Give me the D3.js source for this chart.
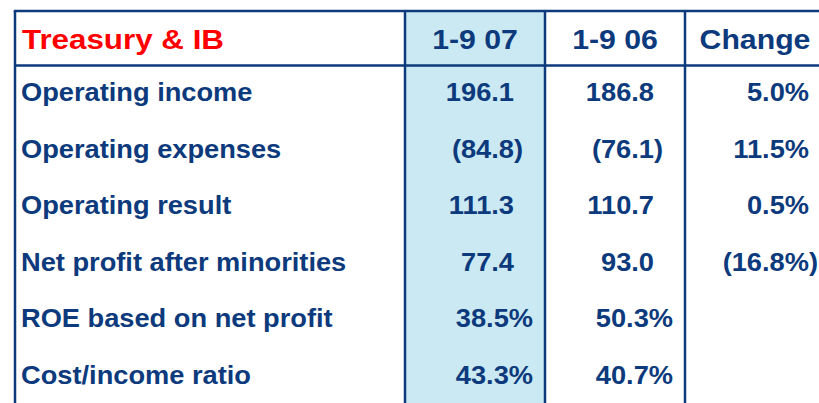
<!DOCTYPE html>
<html>
<head>
<meta charset="utf-8">
<script src="https://cdn.jsdelivr.net/npm/d3@7"></script>
<style>
  html, body { margin: 0; padding: 0; background: #fff; }
  svg text { font-family: "Liberation Sans", Arial, sans-serif; font-weight: bold; }
</style>
</head>
<body>
<svg id="tbl" width="819" height="403"></svg>
<script>
// table content
const title = "Treasury & IB";
const periods = ["1-9 07", "1-9 06", "Change"];
const metrics = [
    "Operating income",
    "Operating expenses",
    "Operating result",
    "Net profit after minorities",
    "ROE based on net profit",
    "Cost/income ratio"
];
const rowKind = ["amount", "amount", "amount", "amount", "ratio", "ratio"];
const val0907 = [196.1, -84.8, 111.3, 77.4, 38.5, 43.3];
const val0906 = [186.8, -76.1, 110.7, 93.0, 50.3, 40.7];
const changePct = [5.0, 11.5, 0.5, -16.8, null, null];

const NAVY = "#0c3a7c";
const RED = "#ff0000";
const HILITE = "#cbe9f2";
const SX = 1.09;   // the original text is a bit stretched sideways

const W = 819, H = 403;
const tblLeft = 15, tblTop = 11, headBottom = 65.5;
const labelRight = 405;

const svg = d3.select("#tbl");

const x = d3.scaleBand().domain(periods).range([labelRight, labelRight + 3 * 140]);
const y = d3.scaleBand().domain(metrics).range([headBottom, headBottom + 6 * 56.6]);

// padding from the right edge of the cell to the end of a ")"
const padRight = {"1-9 07": 22, "1-9 06": 22, "Change": 7};
const parenW = 9;

function fmt(v, kind, col){
    if (v == null) return "";
    var s = Math.abs(v).toFixed(1);
    if (kind == "ratio" || col == "Change") s += "%";
    return v < 0 ? "(" + s + ")" : s;
}

function endX(v, kind, col){
    var right = x(col) + x.bandwidth();
    if (kind == "ratio" && col != "Change") return right - 12;
    var e = right - padRight[col];
    return v < 0 ? e : e - parenW;
}

// highlighted column
svg.append("rect")
    .attr("x", x(periods[0])).attr("y", tblTop)
    .attr("width", x.bandwidth()).attr("height", H - tblTop)
    .attr("fill", HILITE);

// grid
const lines = svg.append("g").attr("stroke", NAVY).attr("stroke-width", 2.5);
lines.append("line").attr("x1", tblLeft - 1.25).attr("x2", W).attr("y1", tblTop).attr("y2", tblTop);
lines.append("line").attr("x1", tblLeft).attr("x2", W).attr("y1", headBottom).attr("y2", headBottom);
[tblLeft, labelRight, x(periods[1]), x(periods[2])].forEach(function(px){
    lines.append("line").attr("x1", px).attr("x2", px).attr("y1", tblTop).attr("y2", H);
});

// header
svg.append("text")
    .attr("transform", "translate(22,48.5) scale(1.1,1)")
    .attr("fill", RED).style("font-size", "28.5px")
    .text(title);

svg.selectAll("text.head")
    .data(periods).enter().append("text")
    .attr("class", "head")
    .attr("transform", function(d){ return "translate(" + (x(d) + x.bandwidth() / 2) + ",48.5) scale(1.1,1)"; })
    .attr("text-anchor", "middle")
    .attr("fill", NAVY).style("font-size", "27.5px")
    .text(function(d){ return d; });

// row labels
svg.selectAll("text.label")
    .data(metrics).enter().append("text")
    .attr("class", "label")
    .attr("transform", function(d){ return "translate(21," + (y(d) + 35.5) + ") scale(" + SX + ",1)"; })
    .attr("fill", NAVY).style("font-size", "25px")
    .text(function(d){ return d; });

// values
const cols = [val0907, val0906, changePct];
const cells = [];
metrics.forEach(function(m, i){
    periods.forEach(function(p, j){
        cells.push({metric: m, col: p, v: cols[j][i], kind: rowKind[i]});
    });
});

svg.selectAll("text.val")
    .data(cells.filter(function(c){ return c.v != null; }))
    .enter().append("text")
    .attr("class", "val")
    .attr("transform", function(d){
        return "translate(" + endX(d.v, d.kind, d.col) + "," + (y(d.metric) + 35.5) + ") scale(" + SX + ",1)";
    })
    .attr("text-anchor", "end")
    .attr("fill", NAVY).style("font-size", "25px")
    .text(function(d){ return fmt(d.v, d.kind, d.col); });
</script>
</body>
</html>
